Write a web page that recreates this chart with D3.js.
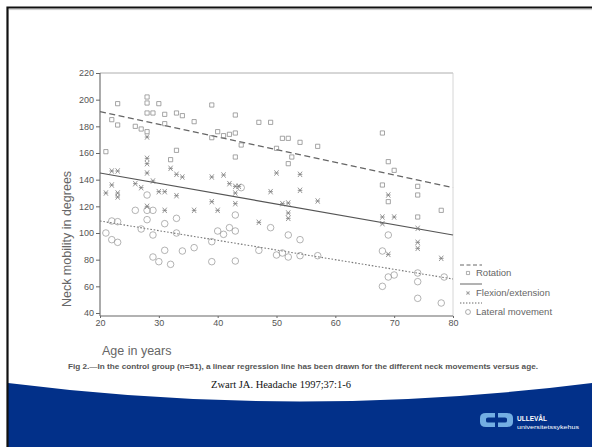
<!DOCTYPE html>
<html>
<head>
<meta charset="utf-8">
<script src="https://cdn.jsdelivr.net/npm/d3@7"></script>
<style>
  html, body { margin: 0; padding: 0; background: #fff; }
  svg { display: block; }
</style>
</head>
<body>
<svg id="slide" width="592" height="447"></svg>
<script>
// values: [age, degrees]
const rotation = [[21,161],[22,185],[23,181],[23,197],[28,202],[28,197.5],[28,190],[28,176],[26,180],[27,178],
  [30,197],[29,190],[31,189],[33,190],[34,188],[36,183.5],[31,182],[33,162],[32,155],[39,196],[43,188.5],
  [39,171.5],[40,176],[41,173],[42,174],[43,175],[43,157],[44,166],[47,183],[49,183],[51,171],[52,171],
  [54,168],[57,165],[50,163.5],[52,152],[52.6,157],[68,175],[69,153.5],[70,147],[68,136],[74,135],
  [74,128.5],[69,123.5],[78,117],[74,112]];
const flexion = [[22,146.5],[23,146.5],[21,130],[22,136],[23,130],[23,127],[26,137],[27,134],[28,172],[28,156],
  [28,152],[28,145],[29,139],[30,131],[31,131],[33,128],[32,148.5],[33,144],[34,142],[39,142],[41,143.5],
  [42,137],[43,135],[43.6,135],[43,130],[39,123.5],[43,122],[36,117],[40,117],[31,117],[28,120],[49,131],
  [50,145],[54,144],[54,132],[51,122],[52,122.5],[57,124],[52,115],[52,111],[69,128.5],[68,112],[70,112],
  [68,107],[74,103.5],[74,93],[74,88.5],[78,81],[69,84],[47,108]];
const lateral = [[21,100],[22,95],[23,93],[22,109],[23,108.5],[26,117],[28,117],[29,117],[28,110],[27,103],
  [29,98.5],[29,82],[30,78.5],[32,76.5],[31,87],[34,86.5],[36,89],[31,107],[33,111],[33,100],[39,93.5],
  [39,78.5],[40,101.5],[41,99],[42,104],[43,101.5],[43,79],[43,113.5],[49,104],[47,87],[28,128.5],[44,134],
  [52,98.5],[54,95],[50,83.5],[52,82],[51,85],[54,83],[57,83],[69,98.5],[68,86.5],[69,67],[70,68.5],
  [68,60],[74,70],[74,63.5],[74,51],[78,47.5],[78.5,67]];

// regression lines: value at age 20 and age 80
const fitAges = [20, 80];
const rotationFit = [191, 134];
const flexionFit = [145, 98.5];
const lateralFit = [109, 65.5];

const xTicks = [20, 30, 40, 50, 60, 70, 80];
const yTicks = [40, 60, 80, 100, 120, 140, 160, 180, 200, 220];
const legendLabels = ["Rotation", "Flexion/extension", "Lateral movement"];

const svg = d3.select("#slide");
const sans = "'Liberation Sans', Arial, Helvetica, sans-serif";

// slide background and border
svg.append("path")
  .attr("d", "M8,383 Q300,420 592,383 L592,447 L8,447 Z")
  .attr("fill", "#023089");
svg.append("path")
  .attr("d", "M7.5,447 L7.5,7.5 L592,7.5")
  .attr("fill", "none").attr("stroke", "#111").attr("stroke-width", 2.2);
svg.append("line").attr("x1", 9).attr("x2", 592).attr("y1", 9.6).attr("y2", 9.6)
  .attr("stroke", "#ccc").attr("stroke-width", 1);

const x = d3.scaleLinear().domain([20, 80]).range([100, 453]);
const y = d3.scaleLinear().domain([40, 220]).range([313, 73]);
const bottom = 316;

const g = svg.append("g");

// frame
g.append("line").attr("x1", x(20)).attr("x2", x(80)).attr("y1", y(220)).attr("y2", y(220))
  .attr("stroke", "#999").attr("stroke-width", 0.8);
g.append("line").attr("x1", x(80)).attr("x2", x(80)).attr("y1", y(220)).attr("y2", bottom)
  .attr("stroke", "#ccc").attr("stroke-width", 0.8);

const yAxis = g.append("g").attr("transform", `translate(${x(20)},0)`)
  .call(d3.axisLeft(y).tickValues(yTicks).tickSize(4).tickPadding(2));
yAxis.select(".domain").attr("d", `M0,${y(220)}V${bottom}`);

const xAxis = g.append("g").attr("transform", `translate(0,${bottom})`)
  .call(d3.axisBottom(x).tickValues(xTicks).tickSize(2).tickPadding(2));
xAxis.select(".domain").attr("d", `M${x(20)},0H${x(80)}`);

[yAxis, xAxis].forEach(a => {
  a.selectAll(".domain").attr("stroke", "#666").attr("stroke-width", 1.1);
  a.selectAll(".tick line").attr("stroke", "#666");
  a.selectAll("text").attr("fill", "#555").attr("font-family", sans).attr("font-size", 9);
});

// regression lines
const line = d3.line().x(d => x(d[0])).y(d => y(d[1]));
const fits = [
  {vals: rotationFit, dash: "6,3.5", w: 1.3, c: "#666"},
  {vals: flexionFit, dash: null, w: 1.2, c: "#555"},
  {vals: lateralFit, dash: "1.6,1.8", w: 1.1, c: "#777"}
];
fits.forEach(f => {
  g.append("path")
    .attr("d", line(d3.zip(fitAges, f.vals)))
    .attr("fill", "none").attr("stroke", f.c)
    .attr("stroke-width", f.w).attr("stroke-dasharray", f.dash);
});

// markers
const square = "M-2.1,-2.1H2.1V2.1H-2.1Z";
const star = "M-2.1,-2.7L2.1,2.7M2.1,-2.7L-2.1,2.7M-2.3,0H2.3";
const circle = d3.symbol().type(d3.symbolCircle).size(34)();

function drawSet(data, shape, col) {
  g.append("g").selectAll("path")
    .data(data)
    .enter()
    .append("path")
    .attr("d", shape)
    .attr("transform", d => `translate(${x(d[0])},${y(d[1])})`)
    .attr("fill", "none")
    .attr("stroke", col)
    .attr("stroke-width", 0.75);
}
drawSet(lateral, circle, "#9a9a9a");
drawSet(rotation, square, "#888");
drawSet(flexion, star, "#777");

// legend
const legend = g.append("g").attr("transform", "translate(460,0)");
const legendRows = [
  {ly: 265, my: 273, dash: "4,2.5", shape: square},
  {ly: 284, my: 293, dash: null, shape: star},
  {ly: 303, my: 312, dash: "1.4,1.6", shape: circle}
];
legendRows.forEach((r, i) => {
  legend.append("line").attr("x1", 0).attr("x2", 22).attr("y1", r.ly).attr("y2", r.ly)
    .attr("stroke", "#666").attr("stroke-width", 1).attr("stroke-dasharray", r.dash);
  legend.append("path").attr("d", r.shape).attr("transform", `translate(8,${r.my}) scale(0.75)`)
    .attr("fill", "none").attr("stroke", "#888").attr("stroke-width", 0.9);
  legend.append("text").attr("x", 16).attr("y", r.my + 3.3)
    .attr("font-family", sans).attr("font-size", 9.5).attr("fill", "#666")
    .text(legendLabels[i]);
});

// axis titles
svg.append("text")
  .attr("transform", "translate(71,239) rotate(-90)")
  .attr("text-anchor", "middle")
  .attr("font-family", sans).attr("font-size", 12.5).attr("fill", "#666")
  .text("Neck mobility in degrees");
svg.append("text")
  .attr("x", 102).attr("y", 354.5)
  .attr("font-family", sans).attr("font-size", 12.5).attr("fill", "#666")
  .text("Age in years");

// caption
svg.append("text")
  .attr("x", 68).attr("y", 369)
  .attr("textLength", 470).attr("lengthAdjust", "spacingAndGlyphs")
  .attr("font-family", sans).attr("font-size", 7.2).attr("font-weight", "bold").attr("fill", "#555")
  .text("Fig 2.\u2014In the control group (n=51), a linear regression line has been drawn for the different neck movements versus age.");

svg.append("text")
  .attr("x", 281).attr("y", 387.5)
  .attr("text-anchor", "middle")
  .attr("font-family", "'Liberation Serif', 'Times New Roman', serif").attr("font-size", 10.5).attr("fill", "#111")
  .text("Zwart JA. Headache 1997;37:1-6");

// logo
const logo = svg.append("g").attr("transform", "translate(480,413)");
logo.append("path")
  .attr("d", "M15,0 H6 Q0,0 0,5 V9 Q0,14 6,14 H15 V9.5 H8 Q6,9.5 6,8 V6 Q6,4.5 8,4.5 H15 Z")
  .attr("fill", "#73aee3");
logo.append("path")
  .attr("d", "M18,0 H27 Q33,0 33,5 V9 Q33,14 27,14 H18 V9.5 H25 Q27,9.5 27,8 V6 Q27,4.5 25,4.5 H18 Z")
  .attr("fill", "#73aee3");
logo.append("text").attr("x", 37).attr("y", 7.5)
  .attr("textLength", 30).attr("lengthAdjust", "spacingAndGlyphs")
  .attr("font-family", sans).attr("font-size", 8).attr("font-weight", "bold").attr("fill", "#fff")
  .text("ULLEVÅL");
logo.append("text").attr("x", 37).attr("y", 15.5)
  .attr("textLength", 62).attr("lengthAdjust", "spacingAndGlyphs")
  .attr("font-family", sans).attr("font-size", 6).attr("fill", "#fff")
  .text("universitetssykehus");
</script>
</body>
</html>
